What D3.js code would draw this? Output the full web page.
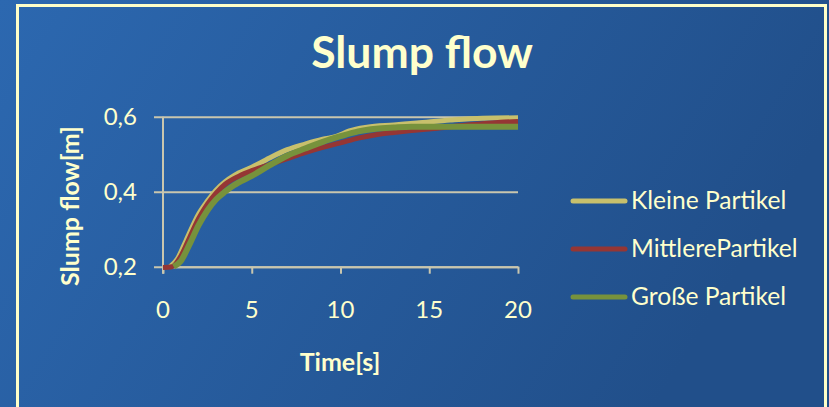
<!DOCTYPE html>
<html>
<head>
<meta charset="utf-8">
<script src="https://cdn.jsdelivr.net/npm/d3@7"></script>
<style>
  html, body { margin: 0; padding: 0; background: #2a64a8; }
  svg { display: block; }
</style>
</head>
<body>
<svg id="chart" width="829" height="407"></svg>
<script>
// Slump flow measurements: spread diameter [m] over time [s]
const seriesNames = ["Kleine Partikel", "MittlerePartikel", "Große Partikel"];
const seriesColors = ["#c8c06c", "#953634", "#77923c"];

const kleineTime   = [0.4, 0.8, 1.3, 2.0, 2.5, 3.0, 3.5, 4.0, 5.0, 6.0, 7.0, 8.0, 9.0, 9.8, 10.5, 11.5, 13.0, 14.3, 16.2, 18.0, 20.0];
const kleineValues = [0.200, 0.220, 0.270, 0.340, 0.375, 0.405, 0.427, 0.443, 0.465, 0.490, 0.512, 0.527, 0.540, 0.548, 0.562, 0.572, 0.578, 0.583, 0.591, 0.596, 0.597];

const mittlereTime   = [0.0, 0.5, 1.0, 1.5, 2.0, 2.5, 3.0, 3.5, 4.3, 5.0, 6.0, 7.0, 8.0, 9.0, 10.0, 11.0, 12.0, 13.0, 14.0, 15.0, 16.0, 17.0, 18.0, 19.0, 20.0];
const mittlereValues = [0.198, 0.200, 0.228, 0.278, 0.328, 0.367, 0.397, 0.420, 0.442, 0.456, 0.472, 0.488, 0.504, 0.518, 0.530, 0.543, 0.552, 0.558, 0.563, 0.567, 0.572, 0.577, 0.581, 0.585, 0.587];

const grosseTime   = [0.6, 1.0, 1.5, 2.0, 2.5, 3.0, 3.5, 4.0, 5.0, 6.0, 7.0, 8.0, 9.0, 10.0, 11.0, 12.0, 13.0, 14.0, 16.0, 18.0, 20.0];
const grosseValues = [0.200, 0.215, 0.260, 0.310, 0.350, 0.380, 0.400, 0.417, 0.442, 0.470, 0.496, 0.515, 0.533, 0.548, 0.561, 0.568, 0.571, 0.573, 0.573, 0.573, 0.573];

const xTicks = [0, 5, 10, 15, 20];
const yTicks = [0.2, 0.4, 0.6];

const titleText = "Slump flow";
const xTitle = "Time[s]";
const yTitle = "Slump flow[m]";

const series = [
  { name: seriesNames[0], color: seriesColors[0], width: 5, pts: kleineTime.map((t, i) => [t, kleineValues[i]]) },
  { name: seriesNames[1], color: seriesColors[1], width: 5, pts: mittlereTime.map((t, i) => [t, mittlereValues[i]]) },
  { name: seriesNames[2], color: seriesColors[2], width: 6, pts: grosseTime.map((t, i) => [t, grosseValues[i]]) }
];

const textColor = "#ffffcc";
const gridColor = "#c9c6ae";
const font = "Lato, 'Open Sans', sans-serif";

const svg = d3.select("#chart");
const W = 829, H = 407;

// background gradient
const defs = svg.append("defs");
const grad = defs.append("linearGradient").attr("id", "bg").attr("x1", "0").attr("x2", "1").attr("y1", "0").attr("y2", "0.3");
grad.append("stop").attr("offset", "0").attr("stop-color", "#2c68b0");
grad.append("stop").attr("offset", "1").attr("stop-color", "#214f8a");
svg.append("rect").attr("width", W).attr("height", H).attr("fill", "url(#bg)");

// outer frame
svg.append("path")
  .attr("d", `M17.5,${H + 2} V5.5 H825.5 V${H + 2}`)
  .attr("fill", "none")
  .attr("stroke", "#ffffc8")
  .attr("stroke-width", 3);

// scales
const x = d3.scaleLinear().domain([0, 20]).range([163, 518]);
const y = d3.scaleLinear().domain([0.2, 0.6]).range([266.7, 116.7]);

// horizontal gridlines with left tick stubs
const grid = svg.append("g")
  .attr("transform", `translate(${x(0)},0)`)
  .call(d3.axisLeft(y).tickValues(yTicks).tickSize(-(x(20) - x(0))).tickFormat(""))
  .call(g => g.select(".domain").remove());
grid.selectAll("line").attr("stroke", gridColor).attr("stroke-width", 2).attr("x1", -9);

// y-axis line
svg.append("line")
  .attr("x1", x(0)).attr("x2", x(0))
  .attr("y1", y(0.6)).attr("y2", y(0.2) + 7)
  .attr("stroke", gridColor).attr("stroke-width", 2);

// x-axis with downward ticks
const xAxis = svg.append("g")
  .attr("transform", `translate(0,${y(0.2)})`)
  .call(d3.axisBottom(x).tickValues(xTicks).tickSize(7).tickSizeOuter(0).tickFormat(""));
xAxis.select(".domain").attr("stroke", gridColor).attr("stroke-width", 2);
xAxis.selectAll(".tick line").attr("stroke", gridColor).attr("stroke-width", 2);

// tick labels
const fmtComma = d => d3.format(".1f")(d).replace(".", ",");
svg.append("g").selectAll("text").data(yTicks).join("text")
  .attr("x", 137).attr("y", d => y(d)).attr("dy", "0.36em")
  .attr("text-anchor", "end")
  .attr("font-family", font).attr("font-size", 24)
  .attr("fill", textColor)
  .text(fmtComma);

svg.append("g").selectAll("text").data(xTicks).join("text")
  .attr("x", d => x(d)).attr("y", 309).attr("dy", "0.36em")
  .attr("text-anchor", "middle")
  .attr("font-family", font).attr("font-size", 24)
  .attr("fill", textColor)
  .text(d => d);

// series lines
const line = d3.line().x(d => x(d[0])).y(d => y(d[1])).curve(d3.curveMonotoneX);
svg.append("g").selectAll("path").data(series).join("path")
  .attr("d", d => line(d.pts))
  .attr("fill", "none")
  .attr("stroke", d => d.color)
  .attr("stroke-width", d => d.width)
  .attr("stroke-linejoin", "round")
  .attr("stroke-linecap", "butt");

// title
svg.append("text")
  .attr("x", 422).attr("y", 68)
  .attr("text-anchor", "middle")
  .attr("font-family", font).attr("font-weight", 700).attr("font-size", 44.5)
  .attr("fill", textColor)
  .text(titleText);

// axis titles
svg.append("text")
  .attr("x", 340).attr("y", 362).attr("dy", "0.36em")
  .attr("text-anchor", "middle")
  .attr("font-family", font).attr("font-weight", 700).attr("font-size", 25)
  .attr("fill", textColor)
  .text(xTitle);

svg.append("text")
  .attr("transform", "translate(70,206) rotate(-90)")
  .attr("dy", "0.36em")
  .attr("text-anchor", "middle")
  .attr("font-family", font).attr("font-weight", 700).attr("font-size", 25)
  .attr("fill", textColor)
  .text(yTitle);

// legend
const legendY = d3.scalePoint().domain(seriesNames).range([201, 297]);
const legend = svg.append("g").selectAll("g").data(series).join("g")
  .attr("transform", d => `translate(0,${legendY(d.name)})`);
legend.append("line")
  .attr("x1", 573).attr("x2", 625)
  .attr("stroke", d => d.color).attr("stroke-width", 5).attr("stroke-linecap", "round");
legend.append("text")
  .attr("x", 631).attr("dy", "0.34em")
  .attr("font-family", font).attr("font-size", 24.6)
  .attr("fill", textColor)
  .text(d => d.name);
</script>
</body>
</html>
